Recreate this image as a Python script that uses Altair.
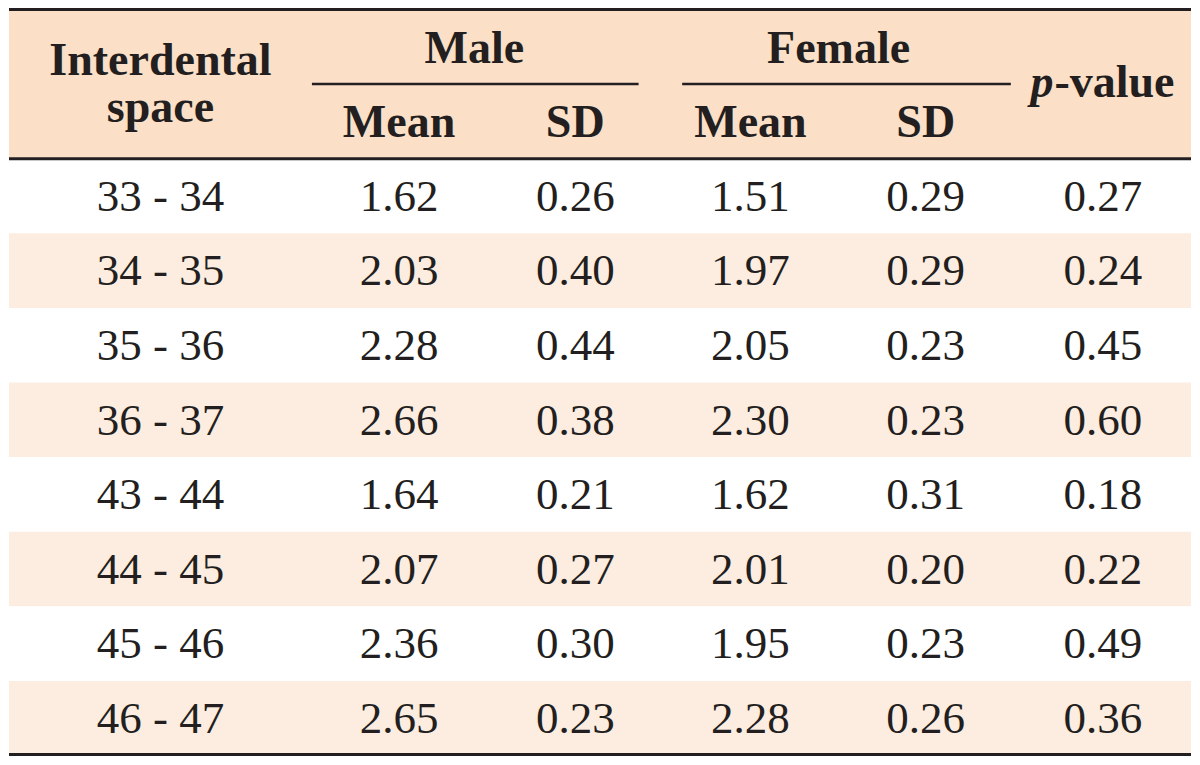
import altair as alt
import pandas as pd

# ---------------- data ----------------
spaces = ["33 - 34", "34 - 35", "35 - 36", "36 - 37",
          "43 - 44", "44 - 45", "45 - 46", "46 - 47"]
male_mean = [1.62, 2.03, 2.28, 2.66, 1.64, 2.07, 2.36, 2.65]
male_sd = [0.26, 0.40, 0.44, 0.38, 0.21, 0.27, 0.30, 0.23]
female_mean = [1.51, 1.97, 2.05, 2.30, 1.62, 2.01, 1.95, 2.28]
female_sd = [0.29, 0.29, 0.23, 0.23, 0.31, 0.20, 0.23, 0.26]
p_values = [0.27, 0.24, 0.45, 0.60, 0.18, 0.22, 0.49, 0.36]

stub_title = ["Interdental", "space"]
group_labels = ["Male", "Female"]
sub_labels = ["Mean", "SD", "Mean", "SD"]
p_label = ["p", "-value"]

# ---------------- layout (reference pixel units) ----------------
X0, X1 = 3, 1197
Y0 = 3
HEADER_BOTTOM = 155
ROW_H = 76
N = len(spaces)
Y1 = HEADER_BOTTOM + N * ROW_H
col_x = [156, 397, 575, 752, 929, 1108]
group_x = [473, 841]
group_span = [(309, 639), (683, 1015)]
W, H = 1184, 749

INK = "#231F20"
HEAD_BG = "#FCDFC7"
TINT = "#FDEDE1"
SERIF = "Liberation Serif"

xs = alt.Scale(domain=[X0 - 1, X1 + 1], nice=False, zero=False)
ys = alt.Scale(domain=[Y0 - 1.5, Y1 + 1.5], nice=False, zero=False, reverse=True)


def X(f="x"):
    return alt.X(f"{f}:Q", scale=xs, axis=None)


def Y(f="y"):
    return alt.Y(f"{f}:Q", scale=ys, axis=None)


# header background
head_df = pd.DataFrame({"x": [X0], "x2": [X1], "y": [Y0], "y2": [HEADER_BOTTOM]})
head_bg = alt.Chart(head_df).mark_rect(color=HEAD_BG).encode(
    x=X(), x2="x2:Q", y=Y(), y2="y2:Q")

# tinted rows
tint_rows = [i for i in range(N) if i % 2 == 1]
tint_df = pd.DataFrame({
    "x": [X0] * len(tint_rows), "x2": [X1] * len(tint_rows),
    "y": [HEADER_BOTTOM + i * ROW_H for i in tint_rows],
    "y2": [HEADER_BOTTOM + (i + 1) * ROW_H for i in tint_rows],
})
tints = alt.Chart(tint_df).mark_rect(color=TINT).encode(
    x=X(), x2="x2:Q", y=Y(), y2="y2:Q")

# horizontal heavy rules
rule_df = pd.DataFrame({"x": [X0] * 3, "x2": [X1] * 3,
                        "y": [Y0, HEADER_BOTTOM, Y1 - 1]})
rules = alt.Chart(rule_df).mark_rule(color=INK, strokeWidth=3).encode(
    x=X(), x2="x2:Q", y=Y())

# group spanner rules
span_df = pd.DataFrame({"x": [a for a, b in group_span],
                        "x2": [b for a, b in group_span],
                        "y": [79, 79]})
spans = alt.Chart(span_df).mark_rule(color=INK, strokeWidth=2.5).encode(
    x=X(), x2="x2:Q", y=Y())

# header texts (bold)
hdr_text = stub_title + group_labels + sub_labels
hdr_x = [col_x[0], col_x[0]] + group_x + col_x[1:5]
hdr_y = [70, 118, 58, 58, 133, 133, 133, 133]
hdr_df = pd.DataFrame({"t": hdr_text, "x": hdr_x, "y": hdr_y})
hdr = alt.Chart(hdr_df).mark_text(
    font=SERIF, fontSize=46, fontWeight="bold", color=INK,
    baseline="alphabetic", align="center").encode(x=X(), y=Y(), text="t:N")

# p-value header
p_df = pd.DataFrame({"t": [p_label[0]], "x": [1058], "y": [92]})
p_it = alt.Chart(p_df).mark_text(
    font=SERIF, fontSize=46, fontWeight="bold", fontStyle="italic", color=INK,
    baseline="alphabetic", align="right").encode(x=X(), y=Y(), text="t:N")
v_df = pd.DataFrame({"t": [p_label[1]], "x": [1059], "y": [92]})
v_txt = alt.Chart(v_df).mark_text(
    font=SERIF, fontSize=46, fontWeight="bold", color=INK,
    baseline="alphabetic", align="left").encode(x=X(), y=Y(), text="t:N")

# body cells
cols = [spaces,
        [f"{v:.2f}" for v in male_mean],
        [f"{v:.2f}" for v in male_sd],
        [f"{v:.2f}" for v in female_mean],
        [f"{v:.2f}" for v in female_sd],
        [f"{v:.2f}" for v in p_values]]
recs = []
for c, vals in enumerate(cols):
    for r, t in enumerate(vals):
        recs.append({"t": t, "x": col_x[c],
                     "y": HEADER_BOTTOM + (r + 0.5) * ROW_H + 15})
body_df = pd.DataFrame(recs)
body = alt.Chart(body_df).mark_text(
    font=SERIF, fontSize=45, color=INK,
    baseline="alphabetic", align="center").encode(x=X(), y=Y(), text="t:N")

chart = alt.layer(head_bg, tints, rules, spans, hdr, p_it, v_txt, body).properties(
    width=W, height=H, padding=0, autosize=alt.AutoSizeParams(type="none"),
    background="white",
).configure_view(stroke=None)

chart.save("out.html", embed_options={"renderer": "svg", "actions": False})
